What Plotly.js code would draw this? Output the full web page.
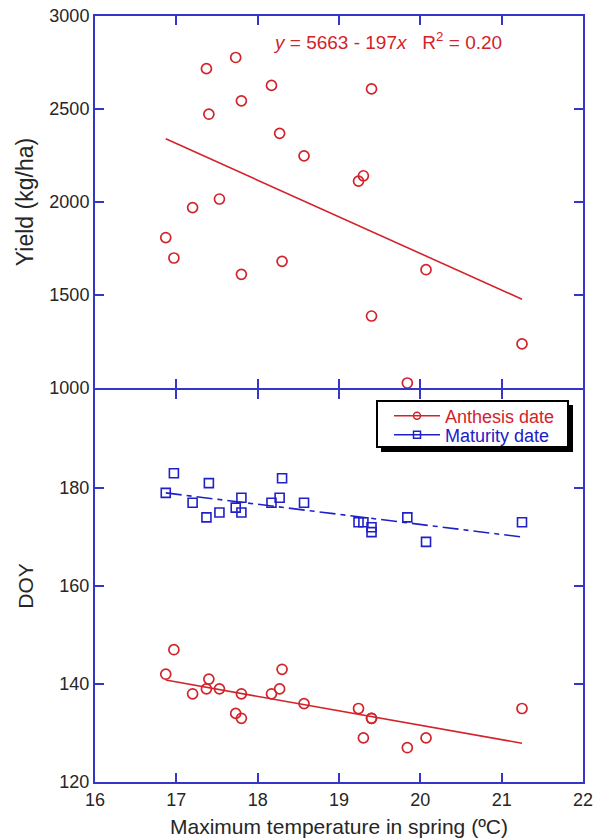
<!DOCTYPE html>
<html><head><meta charset="utf-8">
<script src="https://cdn.plot.ly/plotly-3.0.1.min.js"></script>
<style>html,body{margin:0;padding:0;background:#fff}#c{width:605px;height:839px}</style>
</head><body><div id="c"></div>
<script>
// Maximum spring temperature (ºC) for each year
var temp = [17.73, 17.37, 18.17, 19.40, 17.80, 17.40, 18.27, 18.57, 19.30, 19.24,
            17.53, 17.20, 16.87, 16.97, 17.80, 18.30, 20.07, 19.40, 21.25, 19.84];
// Yield (kg/ha)
var yieldVals = [2777, 2717, 2627, 2608, 2544, 2472, 2369, 2248, 2141, 2112,
                 2016, 1970, 1809, 1699, 1611, 1681, 1636, 1387, 1237, 1027];
// Anthesis DOY
var anthesis = [134, 139, 138, 133, 138, 141, 139, 136, 129, 135,
                139, 138, 142, 147, 133, 143, 129, 133, 135, 127];
// Maturity DOY
var maturity = [176, 174, 177, 172, 178, 181, 178, 177, 173, 173,
                175, 177, 179, 183, 175, 182, 169, 171, 173, 174];
// Fitted lines (end points)
var fitX = [16.87, 21.25];
var fitYield = [2340, 1477];
var fitAnth = [140.8, 127.9];
var fitMat = [179.0, 170.0];
var xTicks = [16, 17, 18, 19, 20, 21, 22];
var yieldTicks = [1000, 1500, 2000, 2500, 3000];
var doyTicks = [120, 140, 160, 180];
var seriesNames = ['Anthesis date', 'Maturity date'];

var RED = '#d2232a', BLUE = '#2020c8', AX = '#3535c8', TXT = '#262626';
var FONT = 'Liberation Sans, Arial, sans-serif';
var traces = [
  {x: temp, y: yieldVals, xaxis: 'x2', yaxis: 'y2', mode: 'markers', showlegend: false,
   marker: {symbol: 'circle-open', size: 10, color: RED, line: {width: 1.7, color: RED}}},
  {x: fitX, y: fitYield, xaxis: 'x2', yaxis: 'y2', mode: 'lines', showlegend: false,
   line: {color: RED, width: 1.6}},
  {x: temp, y: anthesis, mode: 'markers', showlegend: false,
   marker: {symbol: 'circle-open', size: 10, color: RED, line: {width: 1.7, color: RED}}},
  {x: temp, y: maturity, mode: 'markers', showlegend: false,
   marker: {symbol: 'square-open', size: 9, color: BLUE, line: {width: 1.6, color: BLUE}}},
  {x: fitX, y: fitAnth, mode: 'lines', showlegend: false, line: {color: RED, width: 1.6}},
  {x: fitX, y: fitMat, mode: 'lines', showlegend: false,
   line: {color: BLUE, width: 1.6, dash: '16px,5px,5px,5px'}},
  {x: [null], y: [null], mode: 'lines+markers', legend: 'legend',
   name: '<span style="color:' + RED + '">' + seriesNames[0] + '</span>',
   line: {color: RED, width: 1.5}, marker: {symbol: 'circle-open', size: 7, color: RED, line: {width: 1.5, color: RED}}},
  {x: [null], y: [null], mode: 'lines+markers', legend: 'legend2',
   name: '<span style="color:' + BLUE + '">' + seriesNames[1] + '</span>',
   line: {color: BLUE, width: 1.5}, marker: {symbol: 'square-open', size: 7, color: BLUE, line: {width: 1.5, color: BLUE}}}
];

var axBase = {showline: true, linecolor: AX, linewidth: 2, mirror: 'ticks', ticks: 'inside',
  ticklen: 9, tickwidth: 2, tickcolor: AX, showgrid: false, zeroline: false,
  tickfont: {family: FONT, size: 18, color: TXT}};
function ax(o) { return Object.assign({}, axBase, o); }
var H = 766;
var split = 392 / H;
function px(x) { return (x - 95) / 488; }
function py(y) { return (782 - y) / H; }
var legBase = {xanchor: 'left', yanchor: 'middle', bgcolor: 'rgba(0,0,0,0)', borderwidth: 0,
  itemwidth: 46, font: {family: FONT, size: 18}};

var layout = {
  width: 605, height: 839,
  margin: {l: 95, r: 22, t: 16, b: 57},
  paper_bgcolor: '#fff', plot_bgcolor: '#fff',
  font: {family: FONT, color: TXT},
  xaxis: ax({range: [16, 22], tickvals: xTicks, anchor: 'y', domain: [0, 1],
    title: {text: 'Maximum temperature in spring (ºC)', font: {size: 21, color: TXT}, standoff: 11}}),
  yaxis: ax({range: [120, 200], tickvals: doyTicks, domain: [0, split], anchor: 'x',
    title: {text: 'DOY', font: {size: 21, color: TXT}, standoff: 20}}),
  xaxis2: ax({range: [16, 22], tickvals: xTicks, anchor: 'y2', showticklabels: false, matches: 'x'}),
  yaxis2: ax({range: [1000, 3000], tickvals: yieldTicks, domain: [split + 2 / H, 1], anchor: 'x2',
    title: {text: 'Yield (kg/ha)', font: {size: 23, color: TXT}, standoff: 9}}),
  legend: Object.assign({}, legBase, {x: px(389), y: py(416)}),
  legend2: Object.assign({}, legBase, {x: px(389), y: py(435)}),
  shapes: [
    {type: 'rect', xref: 'paper', yref: 'paper', x0: px(381), x1: px(573), y0: py(452), y1: py(405),
     fillcolor: '#000', line: {width: 0}, layer: 'above'},
    {type: 'rect', xref: 'paper', yref: 'paper', x0: px(377), x1: px(568), y0: py(447), y1: py(401),
     fillcolor: '#fff', line: {width: 2, color: '#000'}, layer: 'above'}
  ],
  annotations: [{xref: 'x2', yref: 'y2', x: 19.6, y: 2865, showarrow: false, xanchor: 'center',
    text: '<i>y</i> = 5663 - 197<i>x</i>   R<sup>2</sup> = 0.20',
    font: {family: FONT, size: 19, color: RED}}],
  showlegend: true
};
Plotly.newPlot('c', traces, layout, {displayModeBar: false, staticPlot: true});
</script></body></html>
